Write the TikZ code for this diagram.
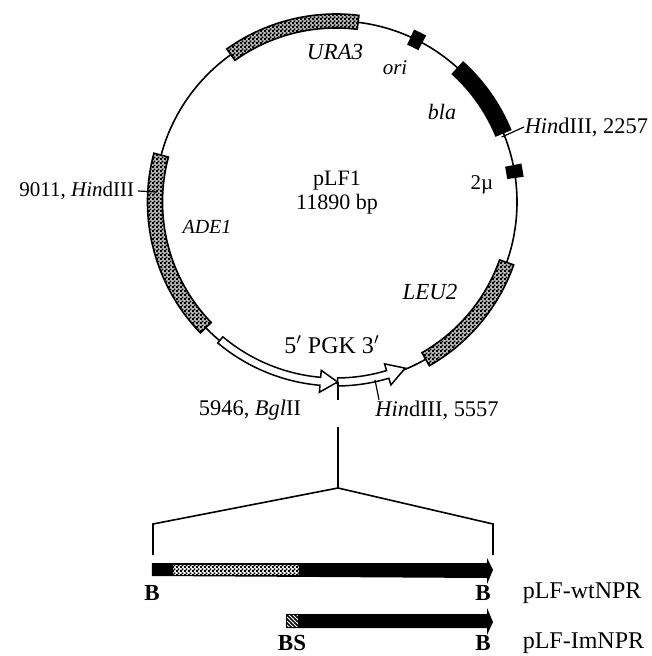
\documentclass[tikz,border=0pt]{standalone}
\usepackage{fontspec}
\setmainfont{Liberation Serif}
\usetikzlibrary{patterns, calc}
\pgfdeclarepatternformonly{stipple}{\pgfpointorigin}{\pgfqpoint{2pt}{2pt}}{\pgfqpoint{2pt}{2pt}}{
  \pgfpathrectangle{\pgfqpoint{0pt}{0pt}}{\pgfqpoint{1.15pt}{1.15pt}}
  \pgfpathrectangle{\pgfqpoint{1pt}{1pt}}{\pgfqpoint{1.15pt}{1.15pt}}
  \pgfusepath{fill}}
\pgfdeclarepatternformonly{hatchfine}{\pgfqpoint{-1pt}{-1pt}}{\pgfqpoint{3pt}{3pt}}{\pgfqpoint{2pt}{2pt}}{
  \pgfsetlinewidth{.7pt}
  \pgfpathmoveto{\pgfqpoint{-1pt}{3pt}}
  \pgfpathlineto{\pgfqpoint{3pt}{-1pt}}
  \pgfusepath{stroke}}
\tikzset{
  stippled/.style={draw=black, line width=.8pt, preaction={fill=black!25}, pattern=stipple},
  solidband/.style={draw=black, fill=black},
  pgkband/.style={draw=black, line width=.75pt, fill=white},
  genename/.style={font=\fontsize{11.5}{13}\selectfont\itshape, inner sep=0pt},
  maptext/.style={inner sep=0pt},
  sitetext/.style={font=\fontsize{11.2}{13}\selectfont, inner sep=0pt},
  barlabel/.style={font=\fontsize{11.5}{13}\selectfont\bfseries, inner sep=0pt},
  vectortext/.style={font=\fontsize{12}{14}\selectfont, inner sep=0pt},
  leader/.style={line width=.6pt}
}
% band on the plasmid circle: start angle, end angle, half width, style
\newcommand{\geneband}[4]{
  \path[#4] (#1:181-#3) arc[start angle=#1, end angle=#2, radius=181-#3]
    -- (#2:181+#3) arc[start angle=#2, end angle=#1, radius=181+#3] -- cycle;
}
% open arrow on the circle: start angle, angle where the head begins, tip angle
\newcommand{\pgkarrow}[3]{
  \path[pgkband] (#1:176) arc[start angle=#1, end angle=#2, radius=176]
    -- (#2:169) -- (#3:180) -- (#2:191) -- (#2:184)
    arc[start angle=#2, end angle=#1, radius=184] -- cycle;
}
\begin{document}
\begin{tikzpicture}[x=0.5pt, y=0.5pt, font=\fontsize{11}{13}\selectfont, line width=.8pt]
  \useasboundingbox (-336,202) rectangle (315,-454);
  \draw (0,0) circle (181);

  % genes on the circle
  \geneband{83}{125.5}{7}{stippled}
  \geneband{165}{224}{7.5}{stippled}
  \geneband{-60.3}{-19.5}{7.5}{stippled}
  \geneband{22.5}{47.7}{8}{solidband}
  \geneband{61.8}{65.4}{7.5}{solidband}
  \geneband{7.9}{11.5}{7.5}{solidband}
  \pgkarrow{230}{265}{270.5}
  \pgkarrow{270.5}{-73.3+360}{-67.4+360}

  % names
  \node[genename] (ura) at (-1,150) {URA3};
  \node[genename, font=\fontsize{10.5}{12}\selectfont\itshape] (ori) at (59,134) {ori};
  \node[genename, font=\fontsize{11}{13}\selectfont\itshape] (bla) at (106,90) {bla};
  \node[maptext, font=\fontsize{10.5}{12}\selectfont] (twomu) at (146,17) {2µ};
  \node[maptext] (plasmid) at (1,21) {pLF1};
  \node[maptext] (size) at (1,-2) {11890 bp};
  \node[genename, font=\fontsize{10}{12}\selectfont\itshape] (ade) at (-129,-25) {ADE1};
  \node[genename] (leu) at (94,-90) {LEU2};
  \node[vectortext] (pgk) at (-4,-143) {5$'$ PGK 3$'$};

  % restriction sites
  \coordinate (site2257) at (21.4:178);
  \coordinate (site9011) at (-179,10);
  \coordinate (siteBgl) at (2,-180);
  \coordinate (endBgl) at (2,-198);
  \coordinate (site5557) at (39,-178);
  \node[sitetext, anchor=west] (hind2257) at (188,75) {\textit{Hin}dIII, 2257};
  \node[maptext, font=\fontsize{10.5}{12}\selectfont, anchor=east] (hind9011) at (-201,11) {9011, \textit{Hin}dIII};
  \node[sitetext] (bgl) at (-86,-208) {5946, \textit{Bgl}II};
  \node[sitetext] (hind5557) at (101,-208) {\textit{Hin}dIII, 5557};
  \draw[leader] (site2257) -- (hind2257.west);
  \draw[leader] (hind9011.east) ++(3,0) -- (site9011);
  \draw[leader] (siteBgl) -- (endBgl);
  \draw[leader] (site5557) -- (hind5557.north -| 43,0);

  % expansion lines
  \coordinate (cuttop) at (2,-225);
  \coordinate (apex) at (2,-286);
  \coordinate (leftknee) at (-183,-322);
  \coordinate (rightknee) at (157,-322);
  \coordinate (leftfoot) at (-183,-353);
  \coordinate (rightfoot) at (157,-353);
  \draw (cuttop) -- (apex);
  \draw (leftfoot) -- (leftknee) -- (apex) -- (rightknee) -- (rightfoot);

  % inserts
  \fill (-184,-361) -- (-37,-361) -- (151,-361) -- (151,-356) -- (157,-368) -- (151,-382)
    -- (151,-376) -- (-184,-374) -- cycle;
  \path[pattern=stipple, preaction={fill=white}] (-163,-363) rectangle (-37,-373);
  \fill (-50,-412) -- (151,-412) -- (151,-406) -- (157,-420) -- (151,-433) -- (151,-426)
    -- (-50,-426) -- cycle;
  \path[draw=black, line width=.5pt, preaction={fill=white}, pattern=hatchfine] (-50,-412.5) rectangle (-38,-425.5);

  \node[barlabel] (bleft) at (-184,-391) {B};
  \node[barlabel] (bright) at (147,-391) {B};
  \node[vectortext, anchor=west] (wt) at (186,-391) {pLF-wtNPR};
  \node[barlabel] (bs) at (-44,-441) {BS};
  \node[barlabel] (bright2) at (147,-441) {B};
  \node[vectortext, anchor=west] (im) at (186,-441) {pLF-ImNPR};
\end{tikzpicture}
\end{document}
